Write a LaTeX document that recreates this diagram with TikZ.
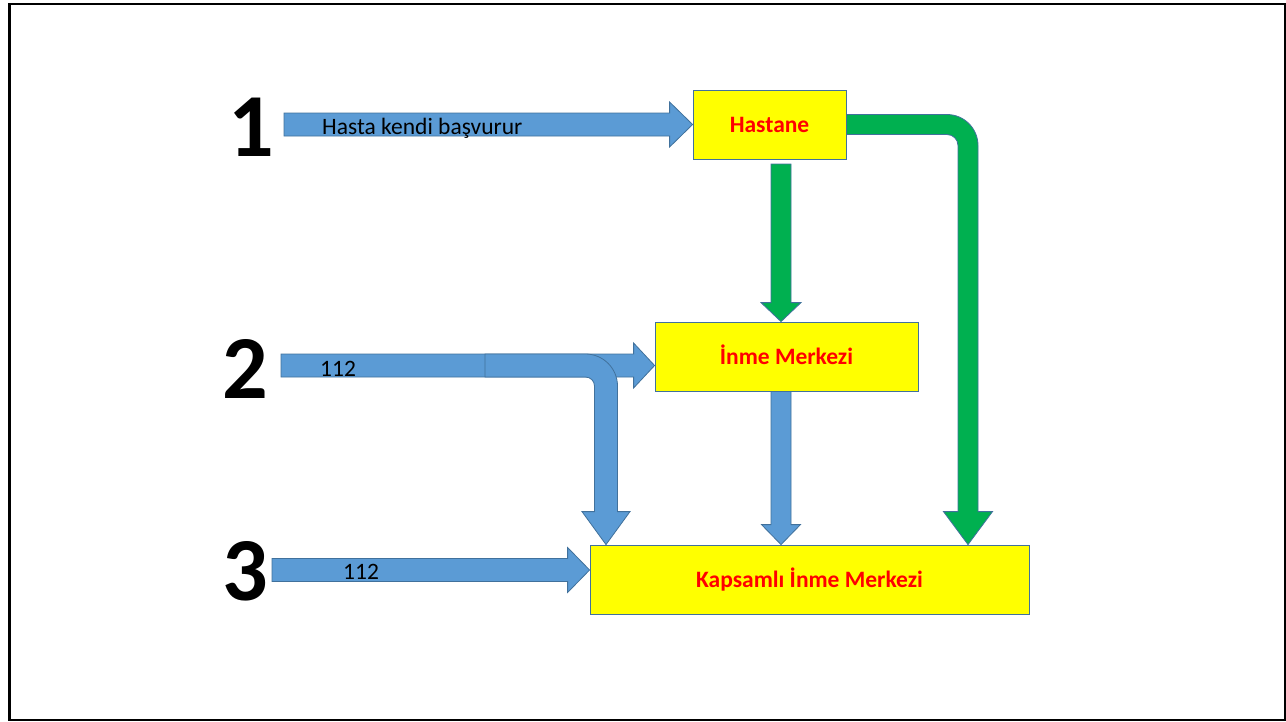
\documentclass[tikz,border=0pt]{standalone}
\usepackage{fontspec}
\setmainfont{Carlito}
\usetikzlibrary{calc}

\definecolor{arrowblue}{HTML}{5B9BD5}
\definecolor{edgeblue}{HTML}{41719C}
\definecolor{arrowgreen}{HTML}{00B050}
\definecolor{boxyellow}{HTML}{FFFF00}
\definecolor{labelred}{HTML}{FF0000}

% Block arrow pointing right: style, start, tip, shaft half width, head half width, head length
\newcommand\rightblock[6]{%
  \path[#1] ($(#2)+(0,-#4)$) -- ($(#3)+(-#6,-#4)$) -- ($(#3)+(-#6,-#5)$) -- (#3)
    -- ($(#3)+(-#6,#5)$) -- ($(#3)+(-#6,#4)$) -- ($(#2)+(0,#4)$) -- cycle;}

% Block arrow pointing down: style, start, tip, shaft half width, head half width, head length
\newcommand\downblock[6]{%
  \path[#1] ($(#2)+(-#4,0)$) -- ($(#3)+(-#4,-#6)$) -- ($(#3)+(-#5,-#6)$) -- (#3)
    -- ($(#3)+(#5,-#6)$) -- ($(#3)+(#4,-#6)$) -- ($(#2)+(#4,0)$) -- cycle;}

% Bent block arrow, right then down: style, start, corner, tip,
% shaft half width, head half width, head length, centre-line radius
\newcommand\bentblock[8]{%
  \pgfmathsetmacro\bentko{0.5523*(#8+#5)}%
  \pgfmathsetmacro\bentki{0.5523*(#8-#5)}%
  \path[#1] ($(#2)+(0,-#5)$) -- ($(#3)+(-#8,-#5)$)
    .. controls ($(#3)+(-#8+\bentko,-#5)$) and ($(#3)+(#5,#8-\bentko)$) .. ($(#3)+(#5,#8)$)
    -- ($(#4)+(#5,-#7)$) -- ($(#4)+(#6,-#7)$) -- (#4)
    -- ($(#4)+(-#6,-#7)$) -- ($(#4)+(-#5,-#7)$) -- ($(#3)+(-#5,#8)$)
    .. controls ($(#3)+(-#5,#8-\bentki)$) and ($(#3)+(-#8+\bentki,#5)$) .. ($(#3)+(-#8,#5)$)
    -- ($(#2)+(0,#5)$) -- cycle;}

\tikzset{
  blockblue/.style={fill=arrowblue, draw=edgeblue, line width=0.8pt, line join=miter},
  blockgreen/.style={fill=arrowgreen, draw=edgeblue, line width=0.8pt, line join=miter},
  centrebox/.style={draw=edgeblue, fill=boxyellow, line width=0.8pt, inner sep=0pt,
    minimum height=69pt, text=labelred, font=\bfseries\fontsize{23.5}{28}\selectfont,
    text height=15pt, text depth=0pt},
  arrowtext/.style={anchor=base west, inner sep=0pt, font=\fontsize{23.5}{28}\selectfont},
  pathno/.style={anchor=base, inner sep=0pt, font=\bfseries\fontsize{90}{96}\selectfont}
}

\begin{document}
\begin{tikzpicture}[x=1pt, y=-1pt]
  \useasboundingbox (0,0) rectangle (1286,721);
  \draw[line width=2.5pt] (9.5,4) rectangle (1285,720);

  % Care centres
  \node[centrebox, minimum width=153pt] (hast) at (769.5,124.5) {Hastane};
  \node[centrebox, minimum width=263pt] (inme) at (786.5,356.5) {İnme Merkezi};
  \node[centrebox, minimum width=439pt] (kaps) at (809.5,579.5) {Kapsamlı İnme Merkezi};

  % Path numbers
  \node[pathno] (n1) at (251,156) {1};
  \node[pathno] (n2) at (245,398) {2};
  \node[pathno] (n3) at (245,600) {3};

  % Arrow anchor points
  \coordinate (s1) at (284,124.5);
  \coordinate (s2) at (281,365.5);
  \coordinate (b2) at (485,365.5);
  \coordinate (b2c) at (606,365.5);
  \coordinate (s3) at (272,570);
  \coordinate (g1) at (781,164);
  \coordinate (gc) at (968,124.5);

  % Path 1: patient arrives at the hospital
  \rightblock{blockblue}{s1}{hast.west}{11.5}{22.5}{23}
  % Path 2: ambulance to stroke centre or comprehensive centre
  \rightblock{blockblue}{s2}{inme.west |- s2}{11.5}{22.5}{21}
  \bentblock{blockblue}{b2}{b2c}{b2c |- kaps.north}{11.5}{24}{33}{20.5}
  % Path 3: ambulance to comprehensive centre
  \rightblock{blockblue}{s3}{kaps.west |- s3}{11.5}{22.5}{22}

  % Transfers between centres
  \downblock{blockgreen}{g1}{g1 |- inme.north}{10}{20}{19}
  \downblock{blockblue}{g1 |- inme.south}{g1 |- kaps.north}{10}{19.5}{20}
  \bentblock{blockgreen}{hast.east}{gc}{gc |- kaps.north}{10}{24.5}{33}{21}

  % Arrow labels
  \node[arrowtext] (t1) at (322,134.5) {Hasta kendi başvurur};
  \node[arrowtext] (t2) at (320,376) {112};
  \node[arrowtext] (t3) at (343,579) {112};
\end{tikzpicture}
\end{document}
